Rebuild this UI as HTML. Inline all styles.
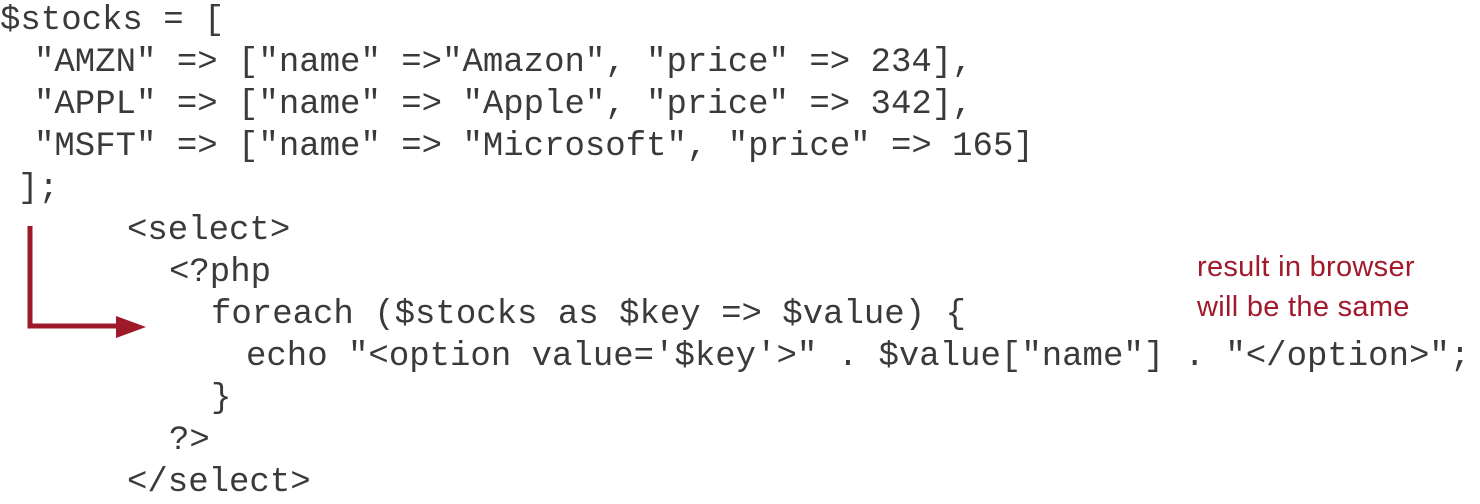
<!DOCTYPE html>
<html><head><meta charset="utf-8"><style>
body{margin:0;width:1480px;height:504px;background:#fff;position:relative;overflow:hidden}
.l{position:absolute;font-family:"Liberation Mono","Courier New",monospace;font-size:34px;line-height:42px;color:#3a3a3a;white-space:pre}
.r{position:absolute;font-family:"Liberation Sans",sans-serif;font-size:29px;letter-spacing:0.3px;color:#a11a2c;left:1197px;line-height:40px}
</style></head><body>
<div class="l" style="left:0;top:0">$stocks = [</div>
<div class="l" style="left:34px;top:42px">"AMZN" =&gt; ["name" =&gt;"Amazon", "price" =&gt; 234],</div>
<div class="l" style="left:34px;top:84px">"APPL" =&gt; ["name" =&gt; "Apple", "price" =&gt; 342],</div>
<div class="l" style="left:34px;top:126px">"MSFT" =&gt; ["name" =&gt; "Microsoft", "price" =&gt; 165]</div>
<div class="l" style="left:18px;top:168px">];</div>
<div class="l" style="left:127px;top:210px">&lt;select&gt;</div>
<div class="l" style="left:169px;top:252px">&lt;?php</div>
<div class="l" style="left:211px;top:294px">foreach ($stocks as $key =&gt; $value) {</div>
<div class="l" style="left:246px;top:336px">echo "&lt;option value='$key'&gt;" . $value["name"] . "&lt;/option&gt;";</div>
<div class="l" style="left:211px;top:378px">}</div>
<div class="l" style="left:169px;top:420px">?&gt;</div>
<div class="l" style="left:127px;top:462px">&lt;/select&gt;</div>
<div class="r" style="top:247px">result in browser</div>
<div class="r" style="top:287px">will be the same</div>
<svg width="1480" height="504" style="position:absolute;left:0;top:0">
<path d="M30 226 V326 H120" fill="none" stroke="#9e1a2a" stroke-width="5"/>
<polygon points="116,316 146,327 116,338" fill="#9e1a2a"/>
</svg>
</body></html>
